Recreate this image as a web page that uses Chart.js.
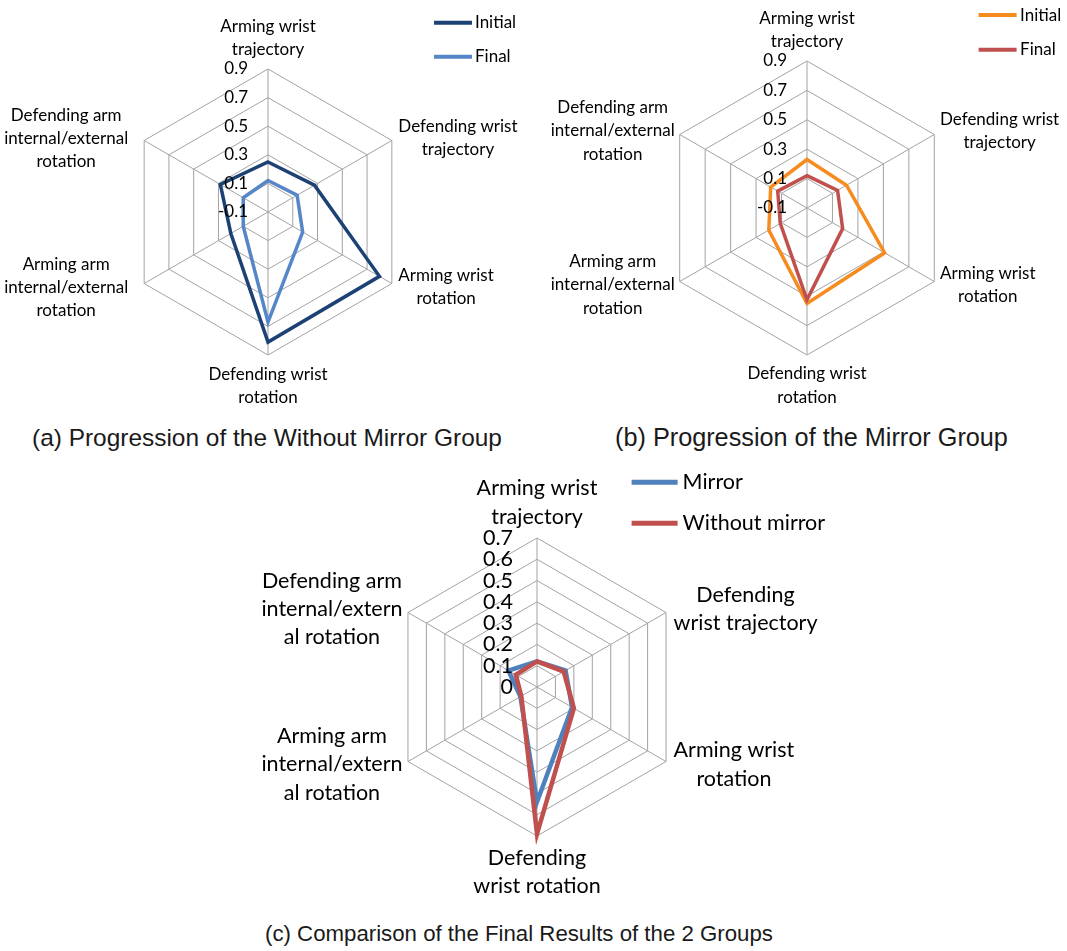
<!DOCTYPE html>
<html>
<head>
<meta charset="utf-8">
<script src="https://cdn.jsdelivr.net/npm/chart.js@4.4.1/dist/chart.umd.min.js"></script>
<style>
  html, body { margin: 0; padding: 0; background: #fff; }
  #page { position: relative; width: 1067px; height: 951px; overflow: hidden; }
  canvas { position: absolute; }
  .cap { position: absolute; font-family: "Liberation Sans", Arial, sans-serif; color: #1a1a1a;
         white-space: nowrap; line-height: 1; transform: translateY(-50%); }
</style>
</head>
<body>
<div id="page">
  <canvas id="chartA" width="535" height="420" style="left:0px;top:0px"></canvas>
  <canvas id="chartB" width="532" height="420" style="left:535px;top:0px"></canvas>
  <canvas id="chartC" width="600" height="450" style="left:250px;top:460px"></canvas>
  <div class="cap" id="capA" style="left:32px;top:438px">(a) Progression of the Without Mirror Group</div>
  <div class="cap" id="capB" style="left:615px;top:438px">(b) Progression of the Mirror Group</div>
  <div class="cap" id="capC" style="left:265px;top:934px">(c) Comparison of the Final Results of the 2 Groups</div>
</div>
<script>
// axis names, clockwise from the top
const axisNames = [
  ['Arming wrist', 'trajectory'],
  ['Defending wrist', 'trajectory'],
  ['Arming wrist', 'rotation'],
  ['Defending wrist', 'rotation'],
  ['Arming arm', 'internal/external', 'rotation'],
  ['Defending arm', 'internal/external', 'rotation']
];
const axisNamesC = [
  ['Arming wrist', 'trajectory'],
  ['Defending', 'wrist trajectory'],
  ['Arming wrist', 'rotation'],
  ['Defending', 'wrist rotation'],
  ['Arming arm', 'internal/extern', 'al rotation'],
  ['Defending arm', 'internal/extern', 'al rotation']
];

// (a) without mirror group
const noMirrorInitial = [0.25, 0.275, 0.80, 0.81, 0.20, 0.285];
const noMirrorFinal   = [0.12, 0.135, 0.18, 0.67, 0.10, 0.10];
// (b) mirror group
const mirrorInitial = [0.23, 0.21, 0.51, 0.55, 0.20, 0.185];
const mirrorFinal   = [0.12, 0.14, 0.18, 0.525, 0.11, 0.13];
// (c) final results
const finalMirror   = [0.12, 0.155, 0.19, 0.54, 0.09, 0.155];
const finalNoMirror = [0.12, 0.145, 0.20, 0.69, 0.085, 0.115];

// value axis: min, max, step
const rangeAB = [-0.1, 0.9, 0.2];
const rangeC  = [0, 0.7, 0.1];

const GRID = '#a3a3a3';

// draws tick labels, axis names and the legend
const decor = {
  id: 'decor',
  afterDatasetsDraw(chart, args, o) {
    const ctx = chart.ctx;
    const s = chart.scales.r;
    ctx.save();
    ctx.fillStyle = '#000';

    ctx.font = o.font;
    ctx.textAlign = 'right';
    ctx.textBaseline = 'middle';
    s.ticks.forEach(t => {
      const d = s.getDistanceFromCenterForValue(t.value);
      ctx.fillText(String(Number(t.value.toFixed(2))), s.xCenter - o.tickGap, s.yCenter - d);
    });

    ctx.textAlign = 'center';
    chart.data.labels.forEach((lines, i) => {
      const p = s.getPointPosition(i, s.drawingArea);
      const c = Math.cos(p.angle), sn = Math.sin(p.angle);
      const w = Math.max(...lines.map(l => ctx.measureText(l).width));
      const h = lines.length * o.lineHeight;
      let cx, top;
      if (Math.abs(c) < 0.01) {
        cx = p.x;
        top = sn < 0 ? p.y - o.gapTop - h : p.y + o.gapBottom;
      } else {
        cx = c > 0 ? p.x + o.gapRight + w / 2 : p.x - o.gapLeft - w / 2;
        top = p.y + (sn < 0 ? o.shiftUp : o.shiftDown) - h / 2;
      }
      lines.forEach((l, k) => ctx.fillText(l, cx, top + (k + 0.5) * o.lineHeight));
    });

    const L = o.legend;
    ctx.textAlign = 'left';
    chart.data.datasets.forEach((ds, i) => {
      const y = L.y + i * L.dy;
      ctx.strokeStyle = ds.borderColor;
      ctx.lineWidth = L.lineWidth;
      ctx.beginPath();
      ctx.moveTo(L.x, y);
      ctx.lineTo(L.x + L.len, y);
      ctx.stroke();
      ctx.fillText(ds.label, L.x + L.len + L.gap, y);
    });
    ctx.restore();
  }
};

function radar(id, labels, sets, range, geo, look) {
  const cv = document.getElementById(id);
  const padding = {
    left: geo.cx - geo.R,
    top: geo.cy - geo.R,
    right: cv.width - geo.cx - geo.R,
    bottom: cv.height - geo.cy - geo.R
  };
  return new Chart(cv, {
    type: 'radar',
    data: {
      labels: labels,
      datasets: sets.map(s => ({
        label: s.label,
        data: s.data,
        borderColor: s.color,
        backgroundColor: s.color,
        borderWidth: look.lineWidth,
        borderJoinStyle: 'miter',
        pointRadius: 0,
        fill: false,
        order: s.order
      }))
    },
    options: {
      responsive: false,
      animation: false,
      events: [],
      layout: { padding: padding },
      plugins: {
        legend: { display: false },
        tooltip: { enabled: false },
        decor: look
      },
      scales: {
        r: {
          min: range[0],
          max: range[1],
          ticks: { display: false, stepSize: range[2] },
          pointLabels: { display: false },
          grid: { color: GRID, lineWidth: 1 },
          angleLines: { color: GRID, lineWidth: 1 }
        }
      }
    },
    plugins: [decor]
  });
}

const fontAB = '17px Lato, "Noto Sans", sans-serif';
const fontC = '21.5px Lato, "Noto Sans", sans-serif';

radar('chartA', axisNames, [
  { label: 'Initial', data: noMirrorInitial, color: '#1c4275', order: 1 },
  { label: 'Final', data: noMirrorFinal, color: '#5586c8', order: 0 }
], rangeAB, { cx: 268, cy: 212, R: 143 }, {
  font: fontAB, lineWidth: 3.5, lineHeight: 23, tickGap: 20,
  gapTop: 8, gapBottom: 8.5, gapRight: 6.5, gapLeft: 16, shiftUp: -2, shiftDown: 4,
  legend: { x: 434, y: 22.7, dy: 34, len: 38, gap: 3, lineWidth: 4 }
});

radar('chartB', axisNames, [
  { label: 'Initial', data: mirrorInitial, color: '#f68b1f', order: 1 },
  { label: 'Final', data: mirrorFinal, color: '#c0504d', order: 0 }
], rangeAB, { cx: 272, cy: 208, R: 147 }, {
  font: fontAB, lineWidth: 3.5, lineHeight: 23.5, tickGap: 20,
  gapTop: 7.5, gapBottom: 7.2, gapRight: 5.7, gapLeft: 5, shiftUp: -3.5, shiftDown: 3.5,
  legend: { x: 443.6, y: 15.1, dy: 34.6, len: 38, gap: 3.5, lineWidth: 4 }
});

radar('chartC', axisNamesC, [
  { label: 'Mirror', data: finalMirror, color: '#4f81bd', order: 1 },
  { label: 'Without mirror', data: finalNoMirror, color: '#c0504d', order: 0 }
], rangeC, { cx: 287, cy: 227, R: 149 }, {
  font: fontC, lineWidth: 4.5, lineHeight: 28.3, tickGap: 24,
  gapTop: 7, gapBottom: 7.7, gapRight: 7.5, gapLeft: 5.5, shiftUp: -3.5, shiftDown: 3,
  legend: { x: 381.6, y: 22.3, dy: 41, len: 46, gap: 5, lineWidth: 5 }
});

// captions: size the font so each line spans the same width as in the figure
const capWidths = { capA: 470, capB: 393, capC: 508 };
const mctx = document.createElement('canvas').getContext('2d');
Object.keys(capWidths).forEach(id => {
  const el = document.getElementById(id);
  mctx.font = '100px "Liberation Sans", Arial, sans-serif';
  const w = mctx.measureText(el.textContent).width;
  el.style.fontSize = (100 * capWidths[id] / w).toFixed(2) + 'px';
});
</script>
</body>
</html>
